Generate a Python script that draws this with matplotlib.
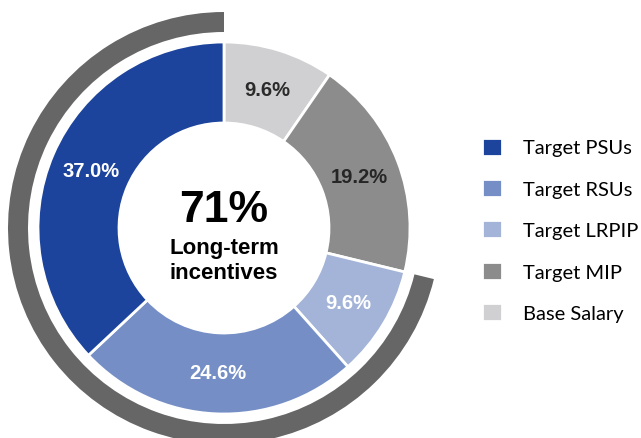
import matplotlib.pyplot as plt

# slices clockwise from 12 o'clock
labels = ["Base Salary", "Target MIP", "Target LRPIP", "Target RSUs", "Target PSUs"]
values = [9.6, 19.2, 9.6, 24.6, 37.0]
colors = ["#d0d0d2", "#8c8c8c", "#a3b4d8", "#758fc6", "#1d449c"]
text_colors = ["#2b2b2b", "#262626", "white", "white", "white"]

lti_share = [71.2, 28.8]  # outer arc: long-term incentives vs rest
center_big = "71%"
center_small = "Long-term\nincentives"

fig = plt.figure(figsize=(6.41, 4.39), dpi=100)
ax = fig.add_axes([0, 0, 1, 1])

cx, cy = 224, 210

# outer arc marking the long-term incentive part
arc, _ = ax.pie(lti_share, startangle=90, counterclock=True, radius=216,
                center=(cx, cy), colors=["#666666", "none"],
                wedgeprops=dict(width=20, linewidth=0))

wedges, _, pcts = ax.pie(values, startangle=90, counterclock=False, radius=186,
                         center=(cx, cy), colors=colors, autopct="%.1f%%",
                         pctdistance=0.78,
                         wedgeprops=dict(width=81, edgecolor="white", linewidth=2),
                         textprops=dict(fontsize=14.5, fontweight="bold",
                                        family="Liberation Sans"))
for t, c in zip(pcts, text_colors):
    t.set_color(c)

ax.text(cx, cy + 19, center_big, ha="center", va="center", fontsize=32,
        fontweight="bold", family="Liberation Sans", color="black")
ax.text(cx, cy - 32, center_small, ha="center", va="center", fontsize=16,
        fontweight="bold", family="Liberation Sans", color="black",
        linespacing=1.2)

# legend in reverse order (PSUs first)
ax.legend(wedges[::-1], labels[::-1], loc="center left",
          bbox_to_anchor=(0.752, 0.474), frameon=False, borderpad=0,
          borderaxespad=0, prop=dict(family="Lato", size=14.5),
          handlelength=1.0, handleheight=1.0, handletextpad=1.05,
          labelspacing=1.12)

ax.set_xlim(0, 641)
ax.set_ylim(0, 439)
ax.set_aspect("equal")
ax.axis("off")

fig.savefig("out.png", dpi=100)
